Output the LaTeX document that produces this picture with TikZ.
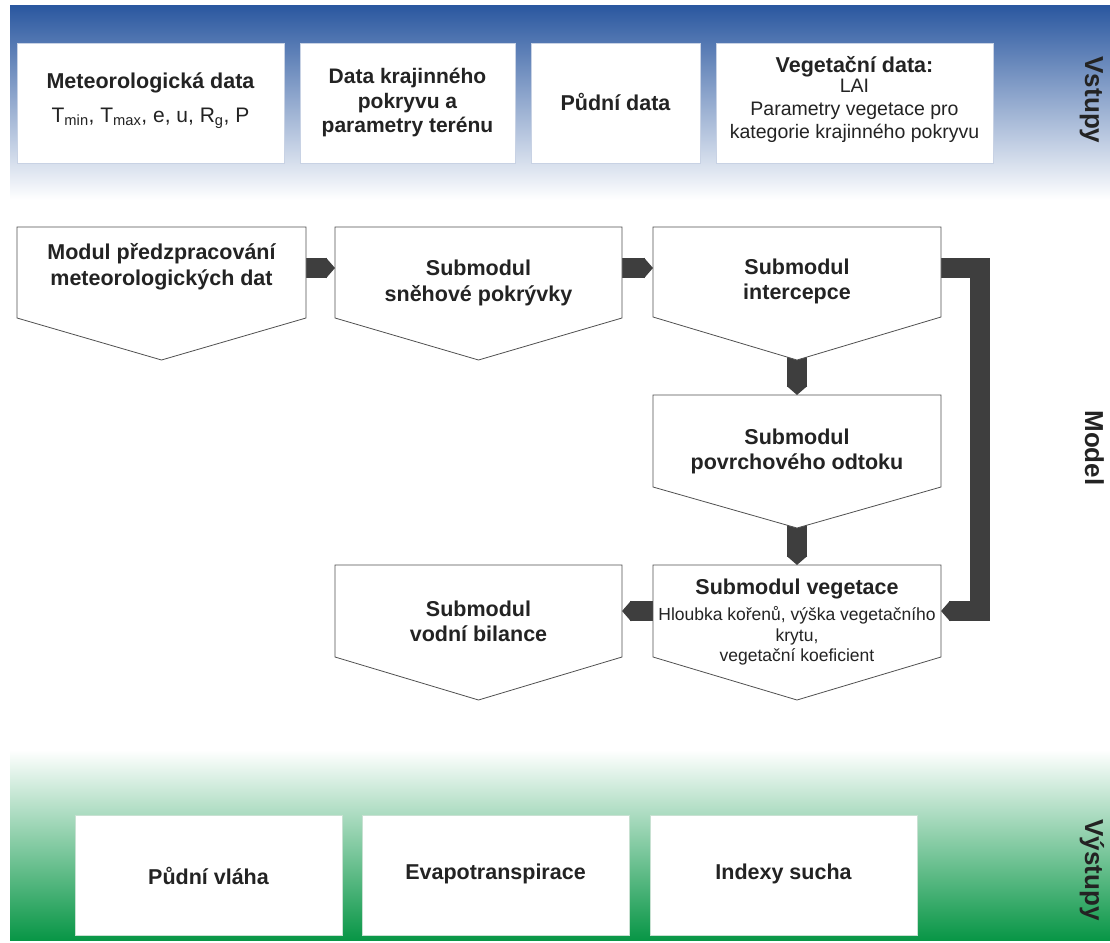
\documentclass[tikz,border=0pt]{standalone}
\usepackage{fontspec}
\setmainfont{Liberation Sans}
\usetikzlibrary{arrows.meta}
\definecolor{darkbar}{RGB}{62,62,62}
\definecolor{bluetop}{RGB}{43,88,160}
\definecolor{bluemid}{RGB}{108,140,193}
\definecolor{greenbot}{RGB}{8,150,70}
\definecolor{greenmid}{RGB}{120,200,150}
\definecolor{penline}{RGB}{80,80,80}
\definecolor{boxedge}{RGB}{200,210,228}
\definecolor{gboxedge}{RGB}{200,225,210}
\definecolor{txt}{RGB}{35,35,35}
\begin{document}
\begin{tikzpicture}[x=1pt,y=-1pt,
  hdr/.style={font=\bfseries\fontsize{21.5}{25.5}\selectfont, align=center, text=txt, inner sep=0pt},
  reg/.style={font=\fontsize{19.5}{23}\selectfont, align=center, text=txt, inner sep=0pt},
  small/.style={font=\fontsize{17.5}{20.5}\selectfont, align=center, text=txt, inner sep=0pt},
  side/.style={font=\bfseries\fontsize{26}{26}\selectfont, rotate=-90, anchor=base, text=txt, inner sep=0pt},
  inbox/.style={draw=boxedge, fill=white, line width=0.6pt},
  outbox/.style={draw=gboxedge, fill=white, line width=0.6pt},
  pent/.style={draw=penline, fill=white, line width=0.8pt, line join=miter},
  bar/.style={draw=darkbar, line width=20pt, -{Triangle[length=9pt,width=20pt]}, shorten >=0pt},
  elbow/.style={bar, line join=miter}
]
\useasboundingbox (0,0) rectangle (1110,942);

% ---------- bands ----------
\shade[top color=bluetop, middle color=bluemid, bottom color=white] (10,6) rectangle (1110,200);
\shade[top color=white, middle color=greenmid, bottom color=greenbot] (10,750) rectangle (1110,940);

% ---------- inputs ----------
\draw[inbox] (17,43) rectangle (284,163);
\draw[inbox] (300,43) rectangle (515,163);
\draw[inbox] (531,43) rectangle (700,163);
\draw[inbox] (716,43) rectangle (993,163);

\node[hdr] (in1a) at (150.5,83) {Meteorologická data};
\node[font=\fontsize{21}{24}\selectfont, text=txt, inner sep=0pt] (in1b) at (150.5,118)
  {T\textsubscript{min}, T\textsubscript{max}, e, u, R\textsubscript{g}, P};
\node[hdr, font=\bfseries\fontsize{21}{24.5}\selectfont] (in2) at (407.5,102.5) {Data krajinného\\pokryvu a\\parametry terénu};
\node[hdr] (in3) at (615.5,102) {Půdní data};
\node[hdr] (in4a) at (854.5,67) {Vegetační data:};
\node[reg] (in4b) at (854.5,111) {LAI\\Parametry vegetace pro\\kategorie krajinného pokryvu};

\node[side] (lvst) at (1085,100) {Vstupy};
\node[side] (lmod) at (1085,448) {Model};
\node[side] (lvys) at (1085,870) {Výstupy};

% ---------- module geometry ----------
% P1
\coordinate (p1tl) at (17,227);  \coordinate (p1tr) at (306,227);
\coordinate (p1br) at (306,318); \coordinate (p1ap) at (161.5,360); \coordinate (p1bl) at (17,318);
% P2
\coordinate (p2tl) at (335,227); \coordinate (p2tr) at (622,227);
\coordinate (p2br) at (622,318); \coordinate (p2ap) at (478.5,360); \coordinate (p2bl) at (335,318);
% P3
\coordinate (p3tl) at (653,227); \coordinate (p3tr) at (941,227);
\coordinate (p3br) at (941,317); \coordinate (p3ap) at (797,360); \coordinate (p3bl) at (653,317);
% P4
\coordinate (p4tl) at (653,395); \coordinate (p4tr) at (941,395);
\coordinate (p4br) at (941,487); \coordinate (p4ap) at (797,528); \coordinate (p4bl) at (653,487);
% P5
\coordinate (p5tl) at (653,565); \coordinate (p5tr) at (941,565);
\coordinate (p5br) at (941,657); \coordinate (p5ap) at (797,700); \coordinate (p5bl) at (653,657);
% P6
\coordinate (p6tl) at (335,565); \coordinate (p6tr) at (622,565);
\coordinate (p6br) at (622,657); \coordinate (p6ap) at (478.5,700); \coordinate (p6bl) at (335,657);

% connector anchor points
\coordinate (a1s) at (306,268);  \coordinate (a1e) at (335,268);
\coordinate (a2s) at (622,268);  \coordinate (a2e) at (653,268);
\coordinate (a3s) at (797,345);  \coordinate (a3e) at (797,395);
\coordinate (a4s) at (797,513);  \coordinate (a4e) at (797,565);
\coordinate (a5s) at (653,611);  \coordinate (a5e) at (622,611);
\coordinate (e1) at (941,268); \coordinate (e2) at (979.5,268); \coordinate (e3) at (979.5,611); \coordinate (e4) at (941,611);

% ---------- connectors (behind modules) ----------
\draw[bar] (a3s) -- (a3e);
\draw[bar] (a4s) -- (a4e);
\draw[bar] (a1s) -- (a1e);
\draw[bar] (a2s) -- (a2e);
\draw[bar] (a5s) -- (a5e);
\draw[elbow] (e1) -- (e2) -- (e3) -- (e4);

% ---------- modules ----------
\foreach \p in {p1,p2,p3,p4,p5,p6}{
  \draw[pent] (\p tl) -- (\p tr) -- (\p br) -- (\p ap) -- (\p bl) -- cycle;
}

\node[hdr] (m1) at (161.5,266.5) {Modul předzpracování\\meteorologických dat};
\node[hdr] (m2) at (478.5,283) {Submodul\\sněhové pokrývky};
\node[hdr] (m3) at (797,281.5) {Submodul\\intercepce};
\node[hdr] (m4) at (797,451.5) {Submodul\\povrchového odtoku};
\node[hdr] (m5a) at (797,589) {Submodul vegetace};
\node[small] (m5b) at (797,636) {Hloubka kořenů, výška vegetačního\\krytu,\\vegetační koeficient};
\node[hdr] (m6) at (478.5,621.5) {Submodul\\vodní bilance};

% ---------- outputs ----------
\draw[outbox] (75,815) rectangle (342,935);
\draw[outbox] (362,815) rectangle (629,935);
\draw[outbox] (650,815) rectangle (917,935);
\node[hdr] (o1) at (208.5,876) {Půdní vláha};
\node[hdr] (o2) at (495.5,874) {Evapotranspirace};
\node[hdr] (o3) at (783.5,874) {Indexy sucha};
\end{tikzpicture}
\end{document}
